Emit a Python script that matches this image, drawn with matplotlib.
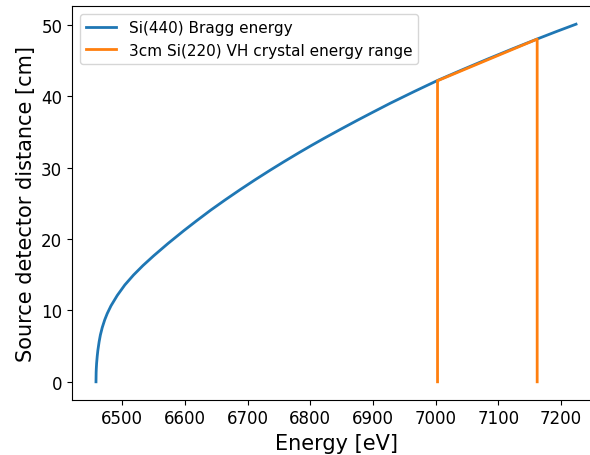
import matplotlib
matplotlib.use("Agg")
from matplotlib import pyplot as plt

# Si(440) Bragg energy curve
energy = [6458, 6458.25, 6458.5, 6459, 6460, 6461, 6463, 6465, 6468, 6472,
          6476, 6482, 6492, 6504, 6518, 6533, 6550, 6573, 6598, 6618,
          6641, 6664, 6688, 6712, 6736, 6758, 6782, 6802, 6822, 6848,
          6875, 6901, 6928, 6966, 7003, 7043, 7083, 7123, 7163, 7193,
          7224]
distance = [0.0, 1.3, 1.85, 2.6, 3.6, 4.4, 5.6, 6.55, 7.6, 8.69,
            9.57, 10.65, 12.1, 13.56, 14.96, 16.28, 17.64, 19.37, 21.15, 22.51,
            24.03, 25.46, 26.9, 28.29, 29.63, 30.82, 32.08, 33.1, 34.09, 35.34,
            36.61, 37.8, 39.02, 40.65, 42.19, 43.71, 45.19, 46.63, 48.03, 49.05,
            50.07]

# crystal energy range outline
range_energy = [7003, 7003, 7162, 7162]
range_distance = [0.0, 42.15, 47.98, 0.0]

fig = plt.figure(figsize=(5.9, 4.56), dpi=100)
ax = fig.add_axes([0.122, 0.1213, 0.895, 0.8627])
ax.plot(energy, distance, color='#1f77b4', lw=2, label='Si(440) Bragg energy')
ax.plot(range_energy, range_distance, color='#ff7f0e', lw=2,
        label='3cm Si(220) VH crystal energy range')
ax.set_xlabel('Energy [eV]', fontsize=15)
ax.set_ylabel('Source detector distance [cm]', fontsize=15)
ax.tick_params(labelsize=12)
ax.legend(loc='upper left', fontsize=11)
fig.savefig('out.png', dpi=100)
